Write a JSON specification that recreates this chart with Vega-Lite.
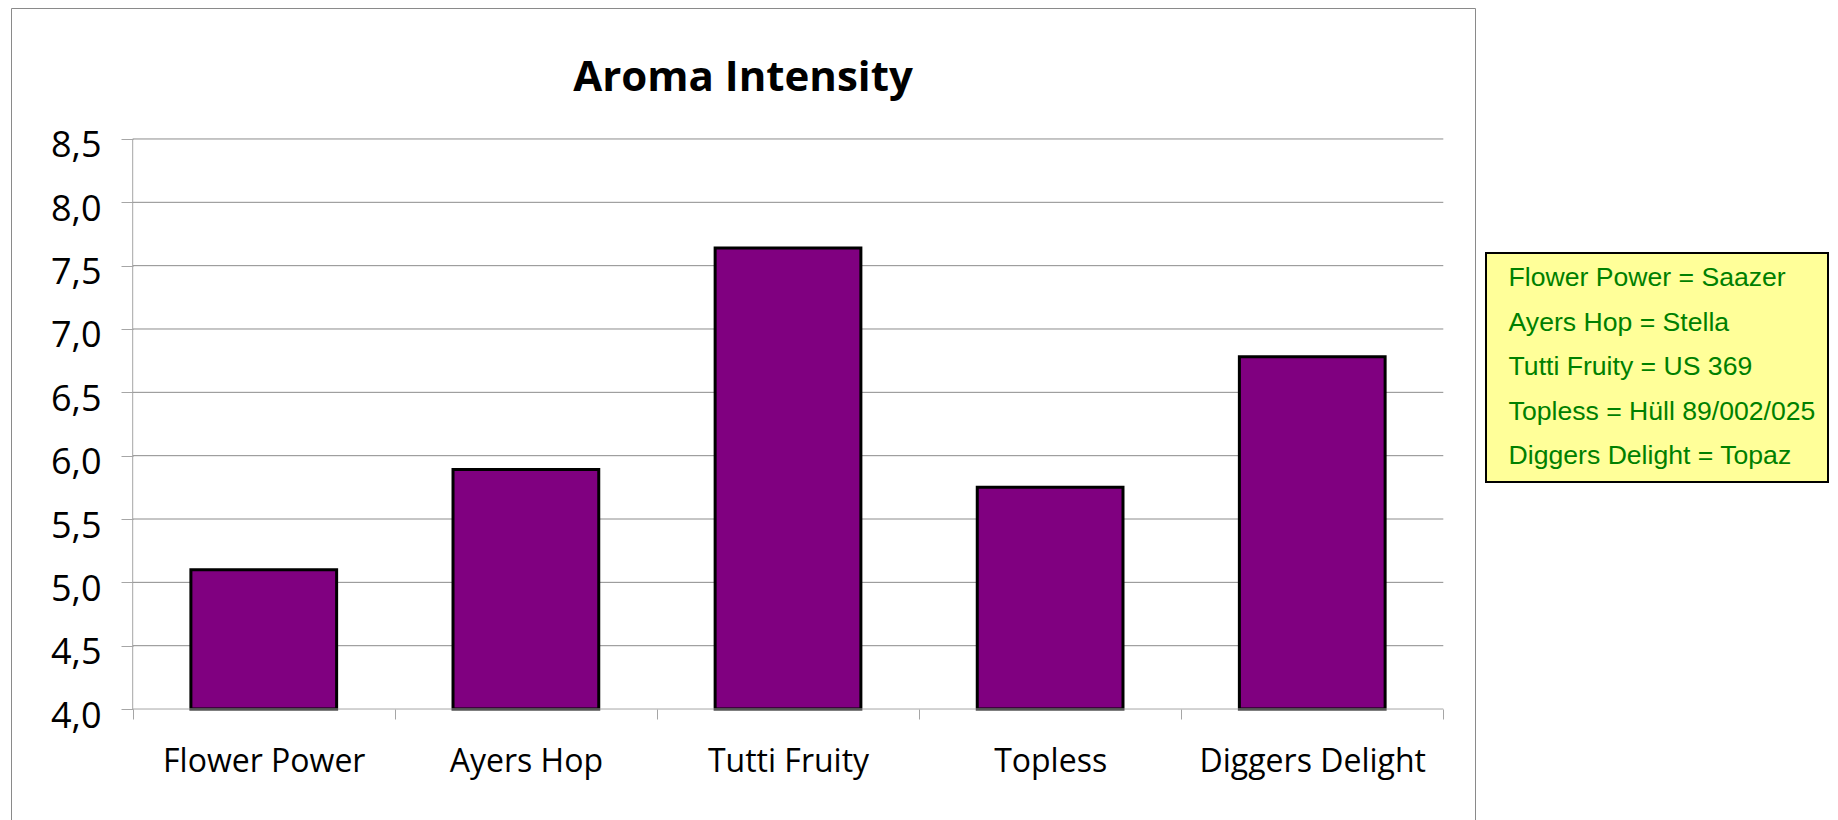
{
  "$schema": "https://vega.github.io/schema/vega-lite/v6.json",
  "width": 1464,
  "height": 812,
  "autosize": {"type": "none"},
  "padding": {"left": 11, "top": 8, "right": 363, "bottom": 0},
  "background": "white",
  "title": {
    "text": "Aroma Intensity",
    "font": "Open Sans",
    "fontSize": 42,
    "fontWeight": "bold",
    "color": "black",
    "anchor": "middle",
    "frame": "group",
    "baseline": "alphabetic",
    "offset": -125
  },
  "config": {
    "view": {"stroke": "#8a8a8a", "strokeWidth": 1},
    "legend": {"strokeWidth": 2}
  },
  "layer": [
    {
      "data": {"values": [{"v": 4.5}, {"v": 5.0}, {"v": 5.5}, {"v": 6.0}, {"v": 6.5}, {"v": 7.0}, {"v": 7.5}, {"v": 8.0}, {"v": 8.5}]},
      "mark": {"type": "rule", "color": "#8c8c8c", "strokeWidth": 1},
      "encoding": {
        "x": {"datum": "Flower Power", "bandPosition": 0,
              "scale": {"domain": ["Flower Power", "Ayers Hop", "Tutti Fruity", "Topless", "Diggers Delight"], "paddingInner": 0, "paddingOuter": 0.2926, "align": 0.7934}},
        "x2": {"datum": "Diggers Delight", "bandPosition": 1},
        "y": {"field": "v", "type": "quantitative",
              "scale": {"domain": [3.124, 9.534], "nice": false, "zero": false}}
      }
    },
    {
      "data": {"values": [
        {"variety": "Flower Power", "key": "Flower Power = Saazer", "intensity": 5.10},
        {"variety": "Ayers Hop", "key": "Ayers Hop = Stella", "intensity": 5.89},
        {"variety": "Tutti Fruity", "key": "Tutti Fruity = US 369", "intensity": 7.64},
        {"variety": "Topless", "key": "Topless = Hüll 89/002/025", "intensity": 5.75},
        {"variety": "Diggers Delight", "key": "Diggers Delight = Topaz", "intensity": 6.78}
      ]},
      "mark": {"type": "bar", "stroke": "black", "strokeWidth": 3, "width": {"band": 0.556}},
      "encoding": {
        "x": {
          "field": "variety", "type": "nominal", "sort": null,
          "scale": {"domain": ["Flower Power", "Ayers Hop", "Tutti Fruity", "Topless", "Diggers Delight"], "paddingInner": 0, "paddingOuter": 0.2926, "align": 0.7934},
          "axis": {
            "title": null, "tickBand": "extent", "offset": -111, "domain": false, "grid": false,
            "ticks": true, "tickSize": 10, "tickColor": "#a6a6a6", "tickWidth": 1,
            "labelFont": "Open Sans", "labelFontSize": 32, "labelColor": "black",
            "labelAlign": "center", "labelPadding": 52, "labelBaseline": "alphabetic",
            "labelAngle": 0, "labelLimit": 0, "labelOverlap": false
          }
        },
        "y": {
          "field": "intensity", "type": "quantitative",
          "scale": {"domain": [3.124, 9.534], "nice": false, "zero": false},
          "axis": {
            "title": null, "values": [4, 4.5, 5, 5.5, 6, 6.5, 7, 7.5, 8, 8.5],
            "offset": -122, "domain": false, "grid": false,
            "tickSize": 12, "tickColor": "#a6a6a6", "tickWidth": 1,
            "labelFont": "Open Sans", "labelFontSize": 36, "labelColor": "black",
            "labelPadding": 20, "labelBaseline": "alphabetic", "labelOffset": 18,
            "labelFlush": false, "labelOverlap": false,
            "labelExpr": "replace(format(datum.value, '.1f'), '.', ',')"
          }
        },
        "y2": {"datum": 4},
        "color": {
          "field": "key", "type": "nominal", "sort": null,
          "scale": {
            "domain": ["Flower Power = Saazer", "Ayers Hop = Stella", "Tutti Fruity = US 369", "Topless = Hüll 89/002/025", "Diggers Delight = Topaz"],
            "range": ["#800080", "#800080", "#800080", "#800080", "#800080"]
          },
          "legend": {
            "title": null, "orient": "none", "legendX": 1475, "legendY": 245,
            "fillColor": "#ffff99", "strokeColor": "#000000", "padding": 12,
            "symbolSize": 0, "symbolOpacity": 0, "symbolStrokeWidth": 0,
            "labelOffset": -16, "labelFont": "Liberation Sans", "labelFontSize": 26.6,
            "labelColor": "#008000", "rowPadding": 17.5, "labelLimit": 0
          }
        }
      }
    },
    {
      "data": {"values": [{"level": 4}]},
      "mark": {"type": "rule", "color": "#a6a6a6", "strokeWidth": 1},
      "encoding": {
        "x": {"datum": "Flower Power", "bandPosition": 0},
        "x2": {"datum": "Diggers Delight", "bandPosition": 1},
        "y": {"field": "level", "type": "quantitative"}
      }
    },
    {
      "data": {"values": [{"low": 4, "high": 8.5}]},
      "mark": {"type": "rule", "color": "#a6a6a6", "strokeWidth": 1},
      "encoding": {
        "x": {"datum": "Flower Power", "bandPosition": 0},
        "y": {"field": "low", "type": "quantitative"},
        "y2": {"field": "high"}
      }
    }
  ]
}
